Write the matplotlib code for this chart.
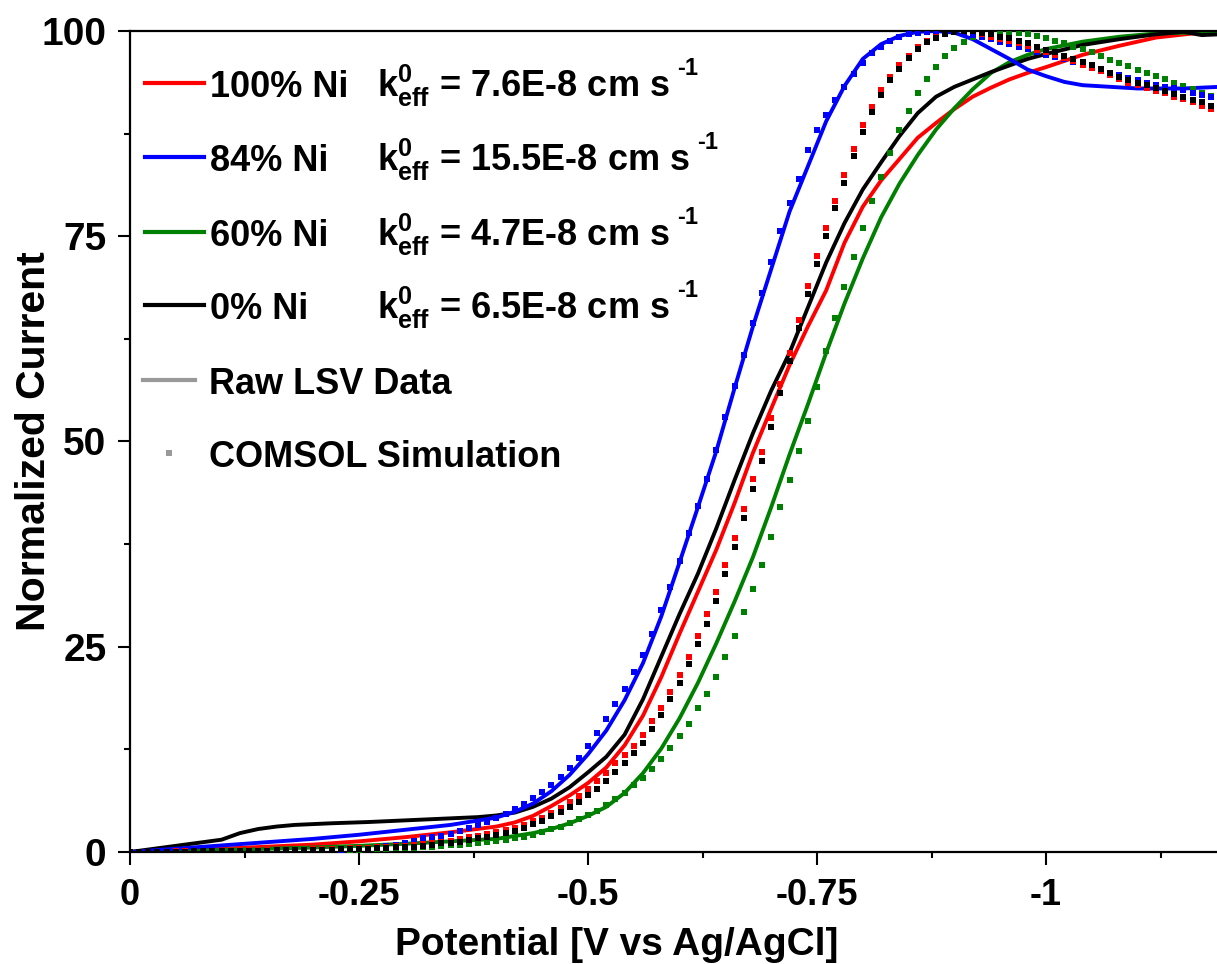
import numpy as np
import matplotlib
matplotlib.use("Agg")
import matplotlib.pyplot as plt
from matplotlib.lines import Line2D

plt.rcParams['font.family'] = ['Liberation Sans', 'DejaVu Sans']
plt.rcParams['font.weight'] = 'bold'
plt.rcParams['mathtext.fontset'] = 'custom'
plt.rcParams['mathtext.rm'] = 'Liberation Sans:bold'
plt.rcParams['mathtext.it'] = 'Liberation Sans:bold'
plt.rcParams['mathtext.bf'] = 'Liberation Sans:bold'

RED = '#ff0000'
BLUE = '#0000ff'
GREEN = '#008000'
BLACK = '#000000'
GRAY = '#999999'

# ---------------- Raw LSV data (potential magnitude in V, normalized current) -------------
red_raw_v = [0, 0.05, 0.10, 0.15, 0.20, 0.25, 0.30, 0.35, 0.40, 0.42, 0.44, 0.46, 0.48, 0.50,
             0.52, 0.54, 0.56, 0.58, 0.60, 0.62, 0.64, 0.66, 0.68, 0.70, 0.72, 0.74, 0.76, 0.78,
             0.80, 0.82, 0.84, 0.86, 0.88, 0.90, 0.92, 0.94, 0.96, 0.98, 1.00, 1.04, 1.08, 1.12,
             1.16, 1.19]
red_raw_i = [0, 0.2, 0.4, 0.65, 0.9, 1.3, 1.8, 2.4, 3.1, 3.6, 4.4, 5.6, 6.9, 8.4,
             10.3, 13.0, 16.6, 21.3, 26.6, 31.7, 36.8, 42.5, 48.6, 54.0, 59.3, 64.0, 68.4, 74.2,
             78.6, 81.8, 84.4, 87.0, 88.8, 90.5, 92.0, 93.1, 94.1, 94.9, 95.6, 97.1, 98.2, 99.2,
             99.7, 100.0]

blue_raw_v = [0, 0.05, 0.10, 0.15, 0.20, 0.25, 0.30, 0.35, 0.40, 0.42, 0.44, 0.46, 0.48, 0.50,
              0.52, 0.54, 0.56, 0.58, 0.60, 0.62, 0.64, 0.66, 0.68, 0.70, 0.72, 0.74, 0.76, 0.78,
              0.80, 0.82, 0.84, 0.86, 0.88, 0.90, 0.92, 0.94, 0.96, 0.98, 1.00, 1.02, 1.04, 1.07,
              1.10, 1.15, 1.19]
blue_raw_i = [0, 0.4, 0.8, 1.2, 1.6, 2.1, 2.7, 3.3, 4.2, 4.9, 5.9, 7.4, 9.4, 11.9,
              14.8, 18.5, 23.0, 28.7, 35.3, 42.0, 48.8, 56.5, 64.0, 71.0, 78.0, 83.5, 89.0, 93.3,
              96.6, 98.4, 99.4, 99.9, 100.0, 99.8, 99.0, 97.8, 96.6, 95.3, 94.5, 93.8, 93.4, 93.2,
              93.0, 93.0, 93.2]

green_raw_v = [0, 0.05, 0.10, 0.15, 0.20, 0.25, 0.30, 0.35, 0.40, 0.44, 0.46, 0.48, 0.50, 0.52,
               0.54, 0.56, 0.58, 0.60, 0.62, 0.64, 0.66, 0.68, 0.70, 0.72, 0.74, 0.76, 0.78, 0.80,
               0.82, 0.84, 0.86, 0.88, 0.90, 0.92, 0.94, 0.96, 0.98, 1.00, 1.04, 1.08, 1.12, 1.19]
green_raw_i = [0, 0.1, 0.25, 0.4, 0.55, 0.75, 1.0, 1.3, 1.6, 2.3, 2.8, 3.5, 4.4, 5.5,
               7.2, 9.6, 12.6, 16.3, 20.6, 25.4, 30.5, 35.9, 42.0, 48.4, 54.5, 60.8, 66.8, 72.3,
               77.3, 81.4, 84.9, 88.0, 90.6, 92.9, 94.9, 96.2, 97.1, 97.8, 98.7, 99.3, 99.7, 99.9]

black_raw_v = [0, 0.02, 0.04, 0.06, 0.08, 0.10, 0.11, 0.12, 0.14, 0.16, 0.18, 0.22, 0.26, 0.30,
               0.34, 0.38, 0.40, 0.42, 0.44, 0.46, 0.48, 0.50, 0.52, 0.54, 0.56, 0.58, 0.60, 0.62,
               0.64, 0.66, 0.68, 0.70, 0.72, 0.74, 0.76, 0.78, 0.80, 0.82, 0.84, 0.86, 0.88, 0.90,
               0.92, 0.94, 0.96, 0.98, 1.00, 1.04, 1.08, 1.12, 1.15, 1.17, 1.19]
black_raw_i = [0, 0.3, 0.6, 0.9, 1.2, 1.5, 1.9, 2.3, 2.8, 3.1, 3.3, 3.5, 3.65, 3.85,
               4.05, 4.25, 4.45, 4.8, 5.5, 6.5, 7.9, 9.7, 11.6, 14.3, 18.6, 23.8, 29.0, 33.9,
               39.4, 45.3, 51.0, 56.2, 60.8, 66.3, 71.8, 76.6, 80.7, 84.0, 87.2, 90.0, 92.0, 93.2,
               94.1, 95.0, 95.8, 96.6, 97.2, 98.3, 99.0, 99.6, 99.9, 99.5, 99.6]

# ---------------- COMSOL simulation (10 mV steps, 0 ... 1.19 V) ----------------
sim_v = np.round(np.arange(0, 1.195, 0.01), 2)

red_sim = [
    0.0, 0.0, 0.05, 0.05, 0.05, 0.1, 0.1, 0.1, 0.1, 0.15,
    0.15, 0.15, 0.2, 0.2, 0.2, 0.25, 0.25, 0.3, 0.3, 0.3,
    0.35, 0.35, 0.4, 0.4, 0.45, 0.5, 0.5, 0.55, 0.6, 0.7,
    0.75, 0.85, 0.95, 1.1, 1.25, 1.4, 1.55, 1.8, 1.95, 2.2,
    2.4, 2.65, 2.95, 3.3, 3.75, 4.15, 4.8, 5.4, 6.1, 6.8,
    7.7, 8.6, 9.6, 10.8, 11.8, 12.9, 14.3, 15.9, 17.6, 19.5,
    21.5, 23.8, 26.3, 29.0, 31.7, 35.0, 38.2, 41.8, 45.4, 48.7,
    52.9, 57.0, 60.8, 64.8, 69.0, 72.6, 76.0, 79.3, 82.4, 85.6,
    88.5, 90.8, 92.8, 94.4, 95.8, 97.0, 98.0, 98.8, 99.3, 99.7,
    99.9, 100.0, 100.0, 99.6, 99.3, 99.0, 98.8, 98.5, 98.2, 97.7,
    97.4, 97.1, 96.7, 96.3, 95.9, 95.5, 95.1, 94.6, 94.1, 93.7,
    93.4, 93.1, 92.7, 92.4, 92.0, 91.7, 91.3, 90.9, 90.5, 89.9]

black_sim = [
    0.0, 0.0, 0.0, 0.05, 0.05, 0.05, 0.05, 0.1, 0.1, 0.1,
    0.1, 0.1, 0.15, 0.15, 0.15, 0.15, 0.2, 0.2, 0.2, 0.25,
    0.25, 0.3, 0.3, 0.35, 0.35, 0.4, 0.4, 0.45, 0.5, 0.55,
    0.6, 0.65, 0.75, 0.9, 1.05, 1.15, 1.25, 1.45, 1.7, 1.85,
    2.1, 2.35, 2.6, 2.95, 3.4, 3.75, 4.35, 4.9, 5.5, 6.1,
    6.9, 7.7, 8.6, 9.8, 10.8, 12.0, 13.3, 15.0, 16.7, 18.6,
    20.6, 22.9, 25.3, 27.8, 30.6, 33.9, 37.2, 40.7, 44.2, 47.6,
    51.8, 55.9, 59.8, 63.8, 68.0, 71.6, 75.0, 78.4, 81.5, 84.8,
    87.7, 90.1, 92.2, 94.0, 95.4, 96.7, 97.8, 98.6, 99.2, 99.6,
    99.9, 100.0, 100.0, 99.8, 99.6, 99.3, 99.1, 98.8, 98.5, 98.0,
    97.7, 97.4, 97.0, 96.6, 96.2, 95.8, 95.4, 94.9, 94.4, 94.0,
    93.7, 93.4, 93.0, 92.7, 92.3, 92.0, 91.6, 91.3, 90.9, 90.5]

blue_sim = [
    0.0, 0.0, 0.0, 0.05, 0.05, 0.05, 0.05, 0.1, 0.1, 0.1,
    0.1, 0.1, 0.15, 0.15, 0.15, 0.15, 0.2, 0.2, 0.2, 0.2,
    0.25, 0.25, 0.3, 0.3, 0.35, 0.4, 0.45, 0.55, 0.7, 0.9,
    1.1, 1.4, 1.7, 1.8, 2.0, 2.2, 2.5, 2.9, 3.3, 3.7,
    4.2, 4.6, 5.2, 5.9, 6.6, 7.3, 8.2, 9.1, 10.2, 11.4,
    12.9, 14.5, 16.2, 18.0, 19.8, 21.9, 24.0, 26.6, 29.5, 32.3,
    35.5, 38.9, 42.2, 45.4, 49.0, 53.0, 56.8, 60.5, 64.4, 68.1,
    71.9, 75.7, 79.1, 82.0, 85.5, 88.0, 89.8, 91.6, 93.2, 94.8,
    96.1, 97.3, 98.1, 98.8, 99.3, 99.6, 99.8, 99.9, 100.0, 100.0,
    99.9, 99.7, 99.5, 99.3, 99.0, 98.7, 98.4, 98.1, 97.8, 97.4,
    97.1, 96.8, 96.6, 96.2, 95.9, 95.5, 95.2, 94.9, 94.6, 94.3,
    94.0, 93.7, 93.4, 93.2, 93.0, 92.8, 92.5, 92.2, 92.0, 91.8]

green_sim = [
    0.0, 0.0, 0.0, 0.0, 0.05, 0.05, 0.05, 0.05, 0.05, 0.1,
    0.1, 0.1, 0.1, 0.1, 0.15, 0.15, 0.15, 0.15, 0.2, 0.2,
    0.2, 0.25, 0.25, 0.25, 0.3, 0.3, 0.35, 0.35, 0.4, 0.45,
    0.45, 0.5, 0.6, 0.65, 0.75, 0.85, 0.9, 1.0, 1.1, 1.2,
    1.35, 1.5, 1.65, 1.85, 2.1, 2.4, 2.75, 3.1, 3.5, 4.0,
    4.5, 5.0, 5.7, 6.5, 7.2, 8.1, 9.0, 10.1, 11.3, 12.7,
    14.1, 15.6, 17.5, 19.2, 21.3, 23.7, 26.3, 29.2, 32.0, 35.0,
    38.4, 42.0, 45.3, 48.8, 52.5, 56.6, 61.0, 65.0, 68.8, 72.5,
    76.0, 79.3, 82.2, 85.2, 88.0, 90.3, 92.4, 94.2, 95.6, 96.9,
    97.9, 98.7, 99.3, 99.7, 99.9, 100.0, 99.9, 99.8, 99.6, 99.4,
    99.1, 98.8, 98.5, 98.1, 97.8, 97.4, 97.0, 96.5, 96.1, 95.7,
    95.2, 94.9, 94.5, 94.1, 93.7, 93.3, 92.9, 92.5, 92.1, 91.7]

# legend content
series_names = ['100% Ni', '84% Ni', '60% Ni', '0% Ni']
k_values = ['7.6E-8', '15.5E-8', '4.7E-8', '6.5E-8']
series_colors = [RED, BLUE, GREEN, BLACK]

x_ticks = [0, -0.25, -0.5, -0.75, -1.0]
x_tick_labels = ['0', '-0.25', '-0.5', '-0.75', '-1']
y_ticks = [0, 25, 50, 75, 100]
y_tick_labels = ['0', '25', '50', '75', '100']

# ---------------- figure ----------------
W, H = 1217, 964
fig = plt.figure(figsize=(W / 100, H / 100), dpi=100)
renderer = fig.canvas.get_renderer()


def fx(px):
    return px / W


def fy(py):
    return 1 - py / H


ax = fig.add_axes([fx(130), fy(852), fx(1217) - fx(130), fy(31) - fy(852)])

lw = 2.8
raw = [(red_raw_v, red_raw_i, RED), (green_raw_v, green_raw_i, GREEN),
       (black_raw_v, black_raw_i, BLACK), (blue_raw_v, blue_raw_i, BLUE)]
for v, i, c in raw:
    ax.plot(-np.asarray(v), i, color=c, lw=lw, solid_capstyle='butt', zorder=2, clip_on=True)

ms = 4.7
for s, c in [(green_sim, GREEN), (blue_sim, BLUE), (red_sim, RED), (black_sim, BLACK)]:
    ax.plot(-sim_v, s, ls='none', marker='s', ms=ms, mew=0, color=c, zorder=3, clip_on=True)

ax.set_xlim(0, -(1217 - 130) / 916)
ax.set_ylim(0, 100)

ax.set_xticks(x_ticks)
ax.set_xticklabels(x_tick_labels, fontsize=26, fontweight='bold')
ax.set_xticks([-0.125, -0.375, -0.625, -0.875, -1.125], minor=True)
ax.set_yticks(y_ticks)
ax.set_yticklabels(y_tick_labels, fontsize=28, fontweight='bold')
ax.set_yticks([12.5, 37.5, 62.5, 87.5], minor=True)

for sp in ['left', 'bottom', 'top']:
    ax.spines[sp].set_linewidth(1.6)
ax.spines['right'].set_visible(False)
ax.tick_params(which='major', direction='out', length=9, width=1.5, top=False, right=False)
ax.tick_params(which='minor', direction='out', length=4.5, width=1.5, top=False, right=False)
ax.tick_params(axis='x', which='major', pad=10)
ax.tick_params(axis='y', which='major', pad=8)

fig.text(fx(617), fy(955), 'Potential [V vs Ag/AgCl]', fontsize=28, fontweight='bold',
         ha='center', va='baseline')
fig.text(fx(45), fy(441), 'Normalized Current', fontsize=29.5, fontweight='bold',
         ha='center', va='baseline', rotation=90, rotation_mode='anchor')

# ---------------- legend (drawn manually) ----------------
row_y = [83, 157, 232, 305]
for name, kv, c, y in zip(series_names, k_values, series_colors, row_y):
    fig.add_artist(Line2D([fx(145), fx(204)], [fy(y), fy(y)], color=c, lw=3.0,
                          transform=fig.transFigure))
    fig.text(fx(210), fy(y + 14), name, fontsize=26, fontweight='bold', va='baseline')
    t = fig.text(fx(377), fy(y + 14),
                 r'$\mathregular{k}_{\mathregular{eff}}^{\mathregular{0}}$' + ' = ' + kv + ' cm s',
                 fontsize=26, fontweight='bold', va='baseline')
    bb = t.get_window_extent(renderer)
    fig.text(bb.x1 / W + fx(7), fy(y + 14 - 22), '-1', fontsize=17, fontweight='bold',
             va='baseline')

fig.add_artist(Line2D([fx(143), fx(195)], [fy(380), fy(380)], color=GRAY, lw=3.0,
                      transform=fig.transFigure))
fig.text(fx(209), fy(394), 'Raw LSV Data', fontsize=26, fontweight='bold', va='baseline')
fig.add_artist(Line2D([fx(169)], [fy(453)], color=GRAY, marker='s', ms=ms, mew=0, ls='none',
                      transform=fig.transFigure))
fig.text(fx(209), fy(467), 'COMSOL Simulation', fontsize=26, fontweight='bold', va='baseline')

fig.savefig('out.png', dpi=100)
